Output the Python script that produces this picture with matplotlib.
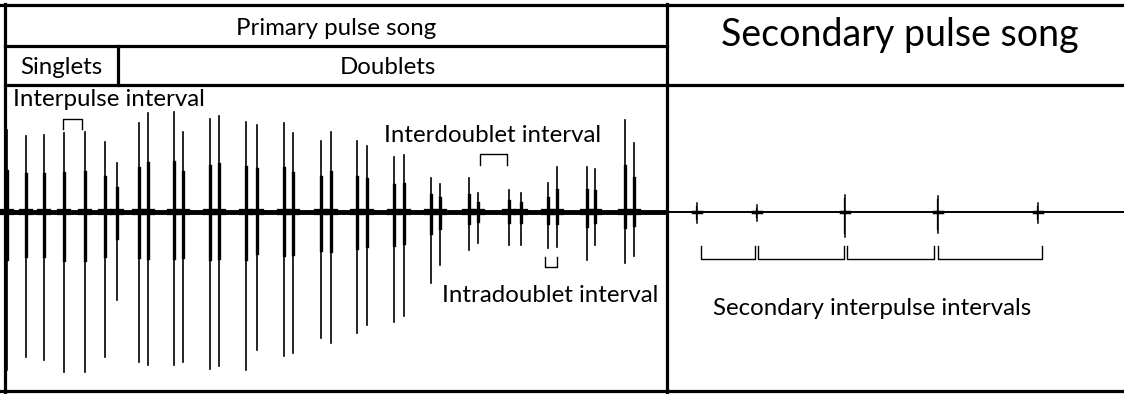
import matplotlib
matplotlib.use("Agg")
import matplotlib.pyplot as plt

plt.rcParams['font.family'] = ['Lato', 'DejaVu Sans']

# oscillogram, primary pulse song: pulse time, upper and lower peak (plot units)
baseline = 212
pulse_t = [7, 26, 44, 64, 85, 105, 117, 139, 148, 174, 183, 210, 219, 246, 257,
           284, 293, 321, 331, 357, 367, 394, 404, 431, 440, 469, 478, 509, 521,
           548, 557, 587, 595, 625, 634]
pulse_top = [130, 136, 135, 133, 132, 142, 163, 123, 113, 112, 132, 119, 116, 122, 125,
             123, 133, 141, 132, 141, 146, 157, 155, 178, 184, 178, 193, 190, 193,
             183, 167, 167, 169, 120, 143]
pulse_bot = [370, 357, 360, 372, 372, 357, 300, 362, 365, 365, 362, 369, 366, 370, 350,
             356, 353, 338, 343, 333, 325, 322, 316, 283, 265, 250, 243, 245, 245,
             248, 247, 260, 245, 263, 256]

# secondary pulse song
sec_t = [697, 757, 845, 938, 1038]
sec_top = [203, 205, 195, 196, 203]
sec_bot = [223, 221, 237, 233, 223]

# interval brackets
sec_brackets = [(701, 755), (758, 844), (847, 934), (938, 1042)]

fig = plt.figure(figsize=(11.24, 3.94), dpi=100)
ax = fig.add_axes([0, 0, 1, 1])
ax.set_xlim(0, 1124)
ax.set_ylim(394, 0)
ax.axis('off')

# baselines
ax.plot([5, 667], [baseline, baseline], color='black', lw=3.5, solid_capstyle='butt')
ax.plot([667, 1124], [baseline, baseline], color='black', lw=1.4, solid_capstyle='butt')

for t, top, bot in zip(pulse_t, pulse_top, pulse_bot):
    ax.plot([t, t], [top, bot], color='black', lw=1.2)
    up = baseline - top
    dn = bot - baseline
    ax.plot([t, t], [baseline - 0.5 * up, baseline + 0.3 * dn], color='black', lw=2.4)
    ax.plot([t - 4, t + 4], [baseline, baseline], color='black', lw=4.5)

for t, top, bot in zip(sec_t, sec_top, sec_bot):
    ax.plot([t, t], [top, bot], color='black', lw=1.1)
    ax.plot([t - 1.5, t - 1.5], [top + 3, bot - 4], color='black', lw=0.9)
    ax.plot([t - 4, t + 4], [baseline, baseline], color='black', lw=2.5)

# table frame
lw = 2.3
ax.plot([0, 1124], [5, 5], color='black', lw=lw)
ax.plot([5, 667], [46, 46], color='black', lw=lw)
ax.plot([5, 1124], [85, 85], color='black', lw=lw)
ax.plot([0, 1124], [391, 391], color='black', lw=lw)
ax.plot([5, 5], [4, 392], color='black', lw=lw)
ax.plot([118, 118], [46, 85], color='black', lw=lw)
ax.plot([667, 667], [4, 392], color='black', lw=lw)

fs = 17.3
ax.text(336, 35, 'Primary pulse song', fontsize=fs, ha='center', va='baseline')
ax.text(61, 74, 'Singlets', fontsize=fs, ha='center', va='baseline')
ax.text(388, 74, 'Doublets', fontsize=fs, ha='center', va='baseline')
ax.text(900, 46, 'Secondary pulse song', fontsize=27, ha='center', va='baseline')
ax.text(13, 106, 'Interpulse interval', fontsize=fs, ha='left', va='baseline')
ax.text(384, 142, 'Interdoublet interval', fontsize=fs, ha='left', va='baseline')
ax.text(658, 302, 'Intradoublet interval', fontsize=fs, ha='right', va='baseline')
ax.text(713, 315, 'Secondary interpulse intervals', fontsize=fs, ha='left', va='baseline')

# brackets
bk = dict(color='black', lw=1.0)
ax.plot([63, 63, 82, 82], [129, 119, 119, 129], **bk)
ax.plot([480, 480, 507, 507], [165, 154, 154, 165], **bk)
ax.plot([545, 545, 557, 557], [257, 267, 267, 257], **bk)
for a, b in sec_brackets:
    ax.plot([a, a, b, b], [246, 259, 259, 246], **bk)

fig.savefig('out.png', dpi=100)
